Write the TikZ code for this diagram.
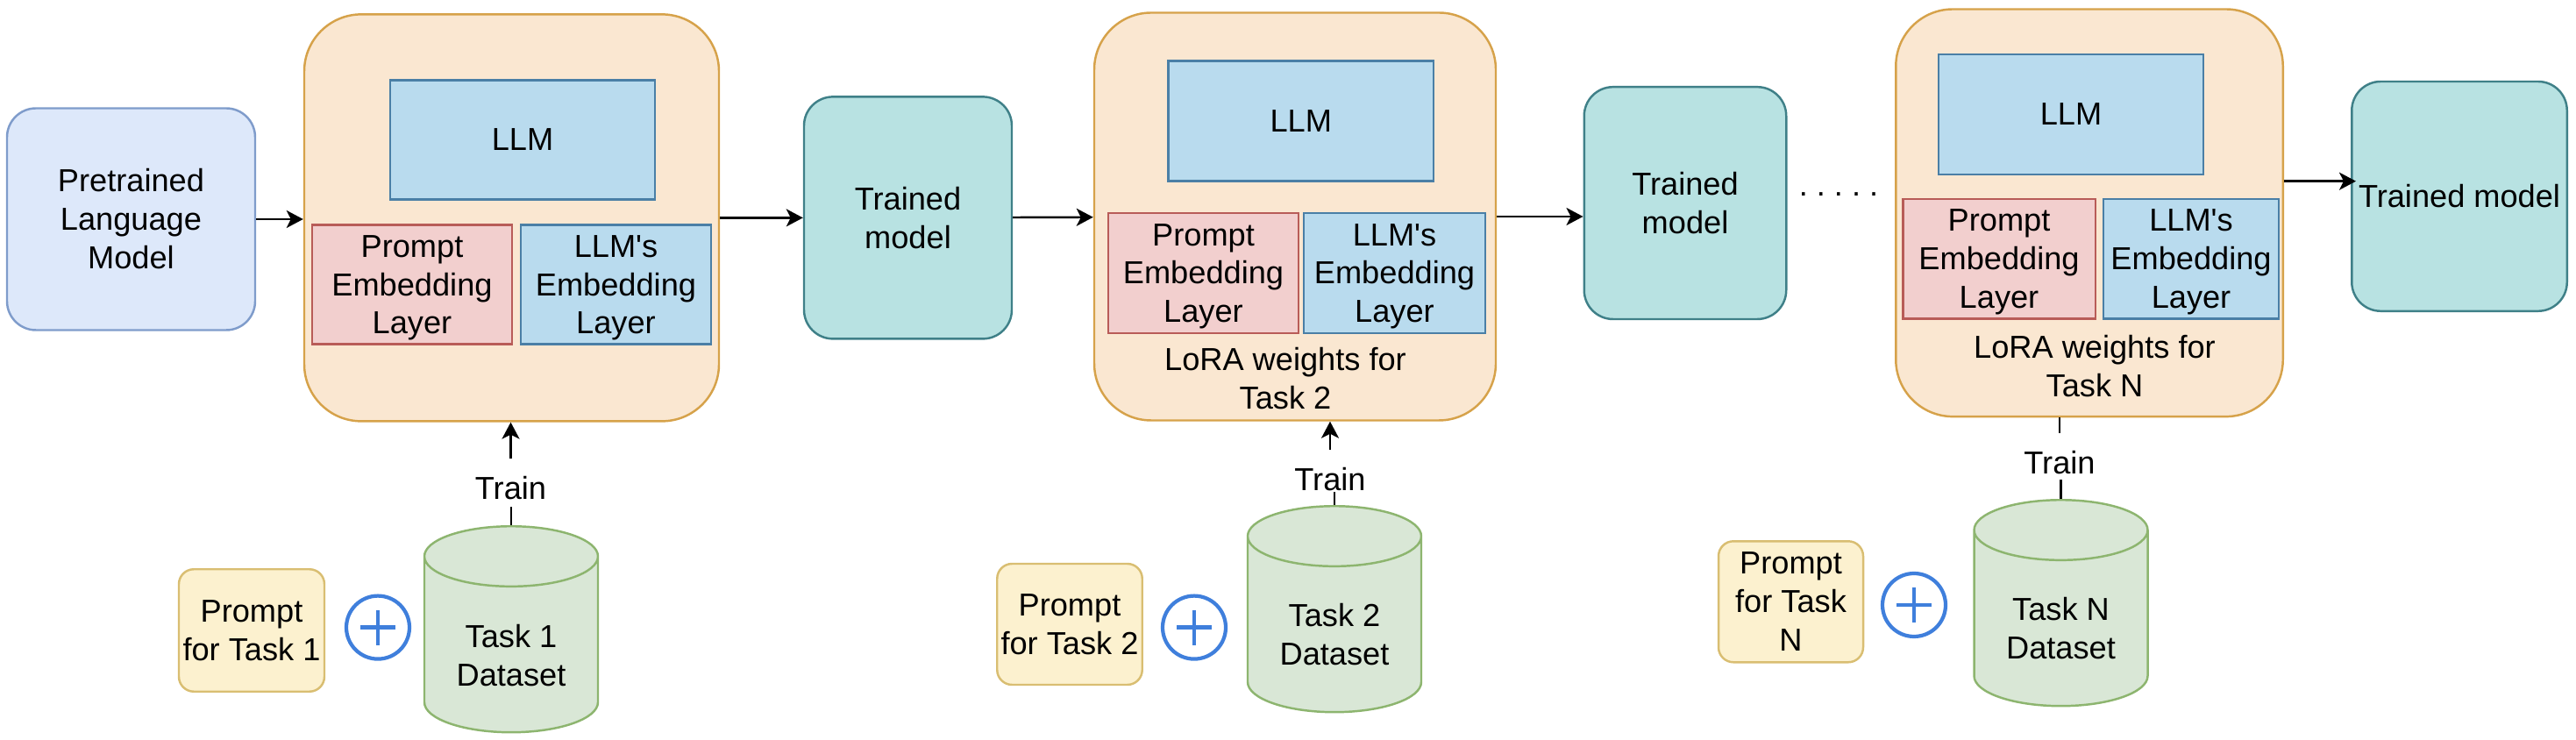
\documentclass[tikz,border=0pt]{standalone}
\usepackage{fontspec}
\setmainfont[Ligatures=TeXOff]{Liberation Sans}
\usetikzlibrary{shapes.geometric, arrows.meta}

\tikzset{
    >={Stealth[length=0.19cm, width=0.2cm, inset=0.05cm]},
    every path/.style={line width=0.7pt},
    every node/.style={inner sep=0pt, align=center, font=\fontsize{10.3}{12.5}\selectfont},
    pretrainedbox/.style={draw=pretrainedline, fill=pretrainedfill, rounded corners=0.33cm},
    modelbox/.style={draw=modelline, fill=modelfill, rounded corners=0.33cm},
    trainbox/.style={draw=trainline, fill=trainfill, rounded corners=0.65cm},
    llmbox/.style={draw=llmline, fill=llmfill, text depth=0pt},
    promptemb/.style={draw=promptline, fill=promptfill, text depth=0pt},
    promptbox/.style={draw=noteline, fill=notefill, rounded corners=0.17cm},
    datacyl/.style={cylinder, shape border rotate=90, aspect=0.55, draw=dataline, fill=datafill,
        minimum width=1.98cm, minimum height=2.35cm, anchor=north},
    plussign/.style={circle, draw=plusblue, line width=1.2pt, minimum size=0.72cm,
        path picture={
            \draw [plusblue, line width=1.2pt] (path picture bounding box.center) ++ (-0.2, 0) -- ++ (0.4, 0);
            \draw [plusblue, line width=1.2pt] (path picture bounding box.center) ++ (0, -0.2) -- ++ (0, 0.4);
        }},
    trainlabel/.style={anchor=base, text height=0.456cm}
}
\definecolor{pretrainedfill}{HTML}{DDE8FA}
\definecolor{pretrainedline}{HTML}{7F9CCB}
\definecolor{modelfill}{HTML}{B8E2E2}
\definecolor{modelline}{HTML}{3F8088}
\definecolor{trainfill}{HTML}{FAE7D1}
\definecolor{trainline}{HTML}{D6A24A}
\definecolor{llmfill}{HTML}{B9DBEE}
\definecolor{llmline}{HTML}{4A7FA6}
\definecolor{promptfill}{HTML}{F2CFCE}
\definecolor{promptline}{HTML}{B85C58}
\definecolor{notefill}{HTML}{FCF1CF}
\definecolor{noteline}{HTML}{D9BE72}
\definecolor{datafill}{HTML}{D9E7D6}
\definecolor{dataline}{HTML}{8DB56F}
\definecolor{plusblue}{HTML}{3F7FDC}
\newcommand{\dbspace}{\phantom{Task 1}\\\phantom{Dataset}}

\begin{document}
\begin{tikzpicture}
    \useasboundingbox (0, 0) rectangle (29.38, -8.44);

    \node [pretrainedbox, minimum width=2.83cm, minimum height=2.53cm] (pretrained) at (1.495, -2.5) {Pretrained\\Language\\Model};

    % task 1
    \node [trainbox, minimum width=4.73cm, minimum height=4.64cm] (big1) at (5.835, -2.484) {};
    \node [llmbox, minimum width=3.02cm, minimum height=1.36cm] (llm1) at (5.96, -1.593) {LLM};
    \node [promptemb, minimum width=2.28cm, minimum height=1.36cm] (pemb1) at (4.7, -3.246) {Prompt\\Embedding\\Layer};
    \node [llmbox, minimum width=2.17cm, minimum height=1.36cm] (lemb1) at (7.025, -3.246) {LLM's\\Embedding\\Layer};
    \node [promptbox, minimum width=1.66cm, minimum height=1.395cm] (prompt1) at (2.87, -7.19) {Prompt\\for Task 1};
    \node [plussign] (plus1) at (4.31, -7.156) {};
    \node [datacyl] (db1) at (5.83, -5.99) {\dbspace};
    \node (dbtext1) at (5.83, -7.475) {Task 1\\Dataset};
    \node [trainlabel, text depth=0.069cm] (train1) at (5.825, -5.7) {Train};

    \node [modelbox, minimum width=2.37cm, minimum height=2.76cm] (trained1) at (10.355, -2.484) {Trained\\model};

    % task 2
    \node [trainbox, minimum width=4.58cm, minimum height=4.65cm] (big2) at (14.77, -2.47) {};
    \node [llmbox, minimum width=3.025cm, minimum height=1.37cm] (llm2) at (14.837, -1.382) {LLM};
    \node [promptemb, minimum width=2.17cm, minimum height=1.365cm] (pemb2) at (13.725, -3.115) {Prompt\\Embedding\\Layer};
    \node [llmbox, minimum width=2.07cm, minimum height=1.365cm] (lemb2) at (15.905, -3.115) {LLM's\\Embedding\\Layer};
    \node (lora2) at (14.66, -4.314) {LoRA weights for\\Task 2};
    \node [promptbox, minimum width=1.655cm, minimum height=1.38cm] (prompt2) at (12.2, -7.12) {Prompt\\for Task 2};
    \node [plussign] (plus2) at (13.62, -7.156) {};
    \node [datacyl] (db2) at (15.22, -5.76) {\dbspace};
    \node (dbtext2) at (15.22, -7.24) {Task 2\\Dataset};
    \node [trainlabel] (train2) at (15.17, -5.597) {Train};

    \node [modelbox, minimum width=2.305cm, minimum height=2.648cm] (trained2) at (19.22, -2.316) {Trained\\model};
    \node [anchor=base] (dots) at (20.97, -2.24) {\frenchspacing . . . . .};

    % task N
    \node [trainbox, minimum width=4.415cm, minimum height=4.646cm] (big3) at (23.83, -2.428) {};
    \node [llmbox, minimum width=3.02cm, minimum height=1.37cm] (llm3) at (23.62, -1.305) {LLM};
    \node [promptemb, minimum width=2.195cm, minimum height=1.365cm] (pemb3) at (22.8, -2.954) {Prompt\\Embedding\\Layer};
    \node [llmbox, minimum width=2cm, minimum height=1.365cm] (lemb3) at (24.99, -2.954) {LLM's\\Embedding\\Layer};
    \node (lora3) at (23.89, -4.18) {LoRA weights for\\Task N};
    \node [promptbox, minimum width=1.65cm, minimum height=1.38cm] (prompt3) at (20.425, -6.863) {Prompt\\for Task\\N};
    \node [plussign] (plus3) at (21.83, -6.9) {};
    \node [datacyl] (db3) at (23.505, -5.69) {\dbspace};
    \node (dbtext3) at (23.505, -7.166) {Task N\\Dataset};
    \node [trainlabel, text depth=0.052cm] (train3) at (23.49, -5.408) {Train};

    \node [modelbox, minimum width=2.455cm, minimum height=2.618cm] (trained3) at (28.05, -2.239) {Trained model};
    \coordinate (out3) at (26.87, -2.067);

    \draw [->] (pretrained) -- (big1.west |- pretrained);
    \draw [->] (big1) -- (trained1);
    \draw [->] (trained1) -- (big2);
    \draw [->] (big2) -- (big2 -| trained2.west);
    \draw [->] (big3.east |- out3) -- (out3);

    \draw (db1.north) -- (db1.north |- train1.south);
    \draw [->] (train1.north) -- (train1.north |- big1.south);
    \draw (db2.north) -- (db2.north |- train2.south);
    \draw [->] (train2.north) -- (train2.north |- big2.south);
    \draw (db3.north) -- (db3.north |- train3.south);
    \draw (train3.north) -- (train3.north |- big3.south);
\end{tikzpicture}
\end{document}
